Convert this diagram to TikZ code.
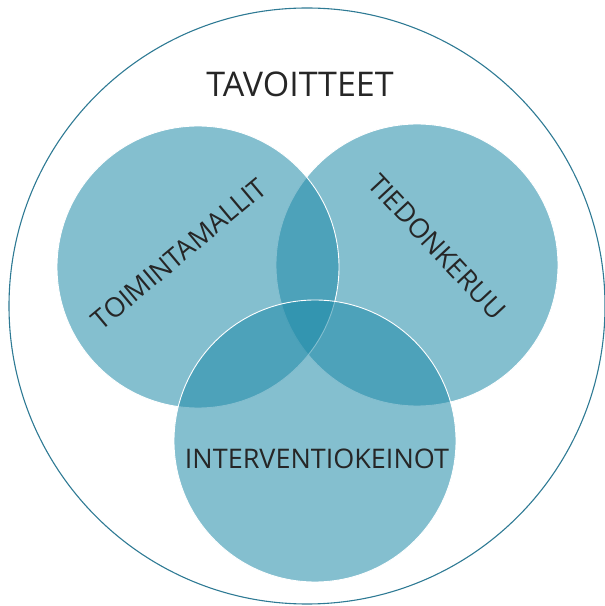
\documentclass[tikz,border=0pt]{standalone}
\usepackage{fontspec}
\setmainfont{Open Sans}
\usepackage{xcolor}
\usepackage{tikz}
\usetikzlibrary{positioning}

\definecolor{setblue}{RGB}{31,138,168}
\definecolor{ringteal}{RGB}{46,122,148}

\begin{document}
\begin{tikzpicture}[
    x=1pt,
    y=1pt,
    font=\fontsize{27}{30}\selectfont,
    ring/.style={draw=ringteal,line width=1.1pt},
    blob/.style={circle,minimum size=282pt,inner sep=0pt,
                 fill=setblue,fill opacity=0.55,
                 draw=white,draw opacity=1,line width=0.9pt},
    lbl/.style={text=black!85,inner sep=0pt}
]

\useasboundingbox (0,0) rectangle (605,606);

\coordinate (O) at (307,300);
\coordinate (Cl) at (198,339);
\coordinate (Cr) at (417,341);
\coordinate (Cb) at (315,165);

\draw[ring] (O) circle[radius=298];

\node[blob] (tieto) at (Cr) {};
\node[blob] (malli) at (Cl) {};
\node[blob] (keino) at (Cb) {};

\node[lbl,font=\fontsize{34}{38}\selectfont] (tavo) at (300,522) {TAVOITTEET};
\node[lbl,rotate=40] (toim) at (179,352) {TOIMINTAMALLIT};
\node[lbl,rotate=-47] (tied) at (437,359) {TIEDONKERUU};
\node[lbl] (inter) at (317,147) {INTERVENTIOKEINOT};

\end{tikzpicture}
\end{document}
